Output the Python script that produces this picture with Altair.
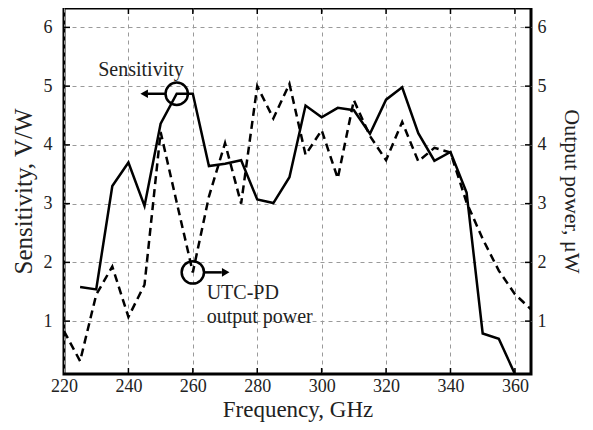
import altair as alt
import pandas as pd

# ---- data ----
freq_sens = list(range(225, 365, 5))
sensitivity = [1.58, 1.54, 3.30, 3.70, 2.96, 4.36, 4.87, 4.87, 3.64, 3.68,
               3.74, 3.07, 3.01, 3.45, 4.67, 4.47, 4.63, 4.59, 4.19, 4.77,
               4.98, 4.20, 3.73, 3.88, 3.19, 0.79, 0.70, 0.10]
freq_power = list(range(220, 370, 5))
power = [0.83, 0.32, 1.45, 1.93, 1.07, 1.62, 4.22, 3.02, 1.83, 3.12,
         4.03, 3.00, 5.00, 4.45, 5.04, 3.83, 4.25, 3.43, 4.76, 4.15,
         3.74, 4.39, 3.72, 3.95, 3.87, 3.02, 2.40, 1.86, 1.46, 1.20]

x_ticks = [220, 240, 260, 280, 300, 320, 340, 360]
y_ticks = [1, 2, 3, 4, 5, 6]

# annotation anchors (data coordinates)
circle_f = [255, 260]
circle_v = [4.87, 1.83]
arrow_f1 = [251.6, 263.4]
arrow_f2 = [246.0, 269.0]
arrow_v = [4.87, 1.83]
head_f = [244.9, 270.2]
head_shape = ["triangle-left", "triangle-right"]
center_text = ["Sensitivity"]
center_f = [243.9]
center_v = [5.18]
left_text = ["UTC-PD", "output power"]
left_f = [264.3, 264.3]
left_v = [1.37, 0.97]

FONT = "Liberation Serif"
W, H = 467, 366
xscale = alt.Scale(domain=[220, 365], nice=False, zero=False)
yscale = alt.Scale(domain=[0.1, 6.33], nice=False, zero=False)

sens_df = pd.DataFrame({"f": freq_sens, "v": sensitivity})
pow_df = pd.DataFrame({"f": freq_power, "v": power})
circ_df = pd.DataFrame({"f": circle_f, "v": circle_v})
arr_df = pd.DataFrame({"f": arrow_f1, "f2": arrow_f2, "v": arrow_v})
head_df = pd.DataFrame({"f": head_f, "v": arrow_v, "s": head_shape})
labc_df = pd.DataFrame({"f": center_f, "v": center_v, "t": center_text})
labl_df = pd.DataFrame({"f": left_f, "v": left_v, "t": left_text})
xt_df = pd.DataFrame({"f": x_ticks[1:]})
yt_df = pd.DataFrame({"v": y_ticks})

x_axis = alt.Axis(values=x_ticks, title="Frequency, GHz", grid=True, ticks=False,
                  domain=False, labelPadding=3, labelFlush=False, titleY=42,
                  titleFontSize=23, titleBaseline="alphabetic", format="d")
left_axis = alt.Axis(values=y_ticks, title="Sensitivity, V/W", orient="left",
                     grid=True, ticks=False, domain=False, labelPadding=12,
                     labelFlush=False, titleX=-41, titleY=H / 2,
                     titleBaseline="middle", titleAngle=270, format="d")
right_axis = alt.Axis(values=y_ticks, title="Output power, μW", orient="right",
                      grid=False, ticks=False, domain=False, labelPadding=6,
                      labelFlush=False, titleX=40, titleY=H / 2, titleFontSize=22,
                      titleBaseline="middle", titleAngle=90, format="d")


def X():
    return alt.X("f:Q", scale=xscale, axis=x_axis)


def Y():
    return alt.Y("v:Q", scale=yscale, axis=left_axis)


sens_line = alt.Chart(sens_df).mark_line(color="black", strokeWidth=2.5, clip=True).encode(
    x=X(), y=Y())

circles = alt.Chart(circ_df).mark_point(shape="circle", size=500, filled=False,
                                         color="black", strokeWidth=2.5, opacity=1).encode(
    x=X(), y=Y())
arrows = alt.Chart(arr_df).mark_rule(color="black", strokeWidth=2.5).encode(
    x=X(), x2="f2:Q", y=Y())
heads = alt.Chart(head_df).mark_point(filled=True, size=75, color="black", opacity=1).encode(
    x=X(), y=Y(), shape=alt.Shape("s:N", scale=None, legend=None))
labels_c = alt.Chart(labc_df).mark_text(font=FONT, fontSize=20, baseline="alphabetic",
                                        align="center", color="#222").encode(
    x=X(), y=Y(), text="t:N")
labels_l = alt.Chart(labl_df).mark_text(font=FONT, fontSize=20, baseline="alphabetic",
                                        align="left", color="#222").encode(
    x=X(), y=Y(), text="t:N")

ticks_b = alt.Chart(xt_df).mark_rule(color="black", strokeWidth=1.5).encode(
    x=X(), y=alt.value(H), y2=alt.value(H - 6))
ticks_t = alt.Chart(xt_df).mark_rule(color="black", strokeWidth=1.5).encode(
    x=X(), y=alt.value(0), y2=alt.value(6))
ticks_l = alt.Chart(yt_df).mark_rule(color="black", strokeWidth=1.5).encode(
    y=Y(), x=alt.value(0), x2=alt.value(6))
ticks_r = alt.Chart(yt_df).mark_rule(color="black", strokeWidth=1.5).encode(
    y=Y(), x=alt.value(W - 6), x2=alt.value(W))

left = alt.layer(sens_line, ticks_b, ticks_t, ticks_l, ticks_r, circles, arrows,
                 heads, labels_c, labels_l)

pow_line = alt.Chart(pow_df).mark_line(color="black", strokeWidth=2.5,
                                       strokeDash=[8, 5], clip=True).encode(
    x=X(), y=alt.Y("v:Q", scale=yscale, axis=right_axis))

chart = alt.layer(left, pow_line).resolve_scale(y="independent").properties(
    width=W, height=H,
    background="white",
    autosize=alt.AutoSizeParams(type="none"),
    padding={"left": 56, "top": 0, "right": 54, "bottom": 48},
).configure_view(stroke="black", strokeWidth=3).configure_axis(
    labelFont=FONT, titleFont=FONT, labelFontSize=18, titleFontSize=25,
    labelColor="#222", titleColor="#222", titleFontWeight="normal",
    gridColor="#9a9a9a", gridDash=[4, 4], gridWidth=1, gridOpacity=1,
)

chart.save("out.html", embed_options={"renderer": "svg", "actions": False})
